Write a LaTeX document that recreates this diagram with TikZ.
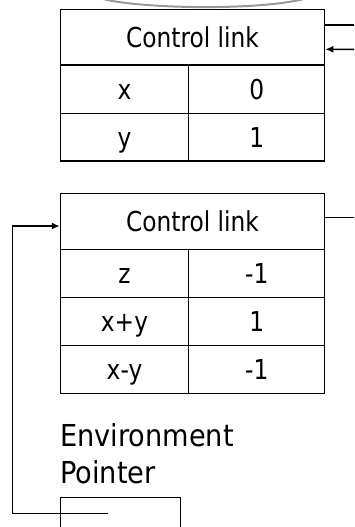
\documentclass[tikz,border=0pt]{standalone}
\usepackage{fontspec}
\usetikzlibrary{arrows.meta}
\newfontfamily\tblfont{DejaVu Sans}[FakeStretch=0.85]
\newfontfamily\envfont{DejaVu Sans}[FakeStretch=0.9]
\begin{document}
\begin{tikzpicture}[x=1pt,y=-1pt,
  cell/.style={draw, line width=1.1pt, inner sep=0pt, text height=20pt, text depth=0pt,
    font=\tblfont\fontsize{27.4}{30}\selectfont},
  conn/.style={line width=1.5pt},
  tip/.style={-{Latex[length=8pt,width=7pt]}}]
\useasboundingbox (0,0) rectangle (354,527);
\clip (0,0) rectangle (354,527);
% gray curve at top
\draw[gray!80, line width=2pt] (103,-1) .. controls (140,8.5) and (255,11) .. (304,-1);
% table 1
\node[cell, minimum width=264.4pt, minimum height=55.7pt] (cla) at (192.5,37.15) {Control link};
\node[cell, minimum width=128.4pt, minimum height=48.3pt] (xa) at (124.5,89.15) {x};
\node[cell, minimum width=136pt, minimum height=48.3pt] (xva) at (256.7,89.15) {0};
\node[cell, minimum width=128.4pt, minimum height=47.7pt] (ya) at (124.5,137.15) {y};
\node[cell, minimum width=136pt, minimum height=47.7pt] (yva) at (256.7,137.15) {1};
% table 2
\node[cell, minimum width=264.4pt, minimum height=56pt] (clb) at (192.5,221.3) {Control link};
\node[cell, minimum width=128.4pt, minimum height=48pt] (zb) at (124.5,273.3) {z};
\node[cell, minimum width=136pt, minimum height=48pt] (zvb) at (256.7,273.3) {-1};
\node[cell, minimum width=128.4pt, minimum height=48pt] (sb) at (124.5,321.3) {x+y};
\node[cell, minimum width=136pt, minimum height=48pt] (svb) at (256.7,321.3) {1};
\node[cell, minimum width=128.4pt, minimum height=48pt] (db) at (124.5,369.3) {x-y};
\node[cell, minimum width=136pt, minimum height=48pt] (dvb) at (256.7,369.3) {-1};
% environment pointer
\node[anchor=base west, inner sep=0pt, align=left,
  font=\envfont\fontsize{30.2}{37.3}\selectfont] (env) at (60,483.3) {Environment\\Pointer};
\node[draw, line width=1.1pt, minimum width=120pt, minimum height=60pt, inner sep=0pt,
  anchor=north west] (envbox) at (60,496.7) {};
% connectors
\coordinate (outa) at (360,25);
\coordinate (ina) at (360,49.3);
\coordinate (outb) at (360,217.7);
\coordinate (ep) at (108.3,513.3);
\draw[conn] ([yshift=12.15pt]cla.east) -- (outa);
\draw[conn, tip] (ina) -- ([yshift=-12.15pt]cla.east);
\draw[conn] ([yshift=3.6pt]clb.east) -- (outb);
\draw[conn, tip] (ep) -- (12.7,513.3) |- ([yshift=-4.7pt]clb.west);
\end{tikzpicture}
\end{document}
